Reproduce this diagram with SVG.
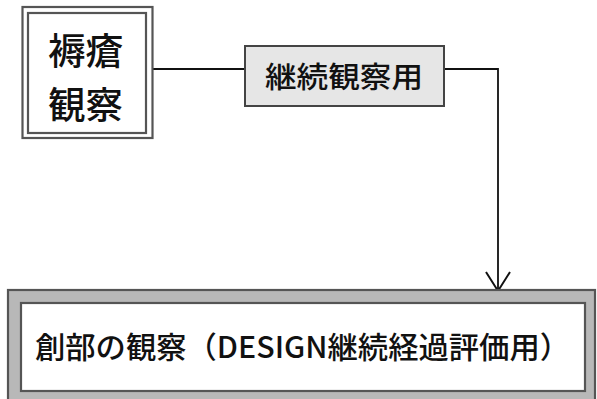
<svg xmlns="http://www.w3.org/2000/svg" width="597" height="399" viewBox="0 0 597 399">
<style>
.t{font-family:"Noto Sans CJK JP","Noto Sans",sans-serif;fill:#111;font-weight:500}
.ln{stroke:#555;stroke-width:2.2;fill:none}
.cn{stroke:#111;stroke-width:1.8;fill:none}
</style>
<rect width="597" height="399" fill="#fff"/>
<g id="connectors">
<line class="cn" x1="153" y1="69" x2="245" y2="69"/>
<polyline class="cn" points="444,69 498,69 498,290"/>
<path d="M486 272 L498 291 L510 272" fill="none" stroke="#111" stroke-width="2"/>
</g>
<g id="node-jokuso">
<rect class="ln" x="22.5" y="7" width="130" height="131" fill="#fff"/>
<rect class="ln" x="28" y="13" width="118" height="120"/>
<text class="t" x="48" y="65" font-size="37" textLength="75" lengthAdjust="spacingAndGlyphs">褥瘡</text>
<text class="t" x="48" y="119" font-size="37" textLength="75" lengthAdjust="spacingAndGlyphs">観察</text>
</g>
<g id="node-keizoku">
<rect x="245" y="46" width="199" height="60" fill="#e6e6e6" stroke="#444" stroke-width="2"/>
<text class="t" x="265" y="88" font-size="29" textLength="158" lengthAdjust="spacingAndGlyphs">継続観察用</text>
</g>
<g id="node-sobu">
<rect x="8" y="290" width="587" height="114" fill="#b8b8b8" stroke="#555" stroke-width="2.2"/>
<rect x="21" y="303" width="564" height="88" fill="#fff" stroke="#555" stroke-width="2.2"/>
<text class="t" x="35" y="358" font-size="30" textLength="535" lengthAdjust="spacingAndGlyphs">創部の観察（DESIGN継続経過評価用）</text>
</g>
</svg>
